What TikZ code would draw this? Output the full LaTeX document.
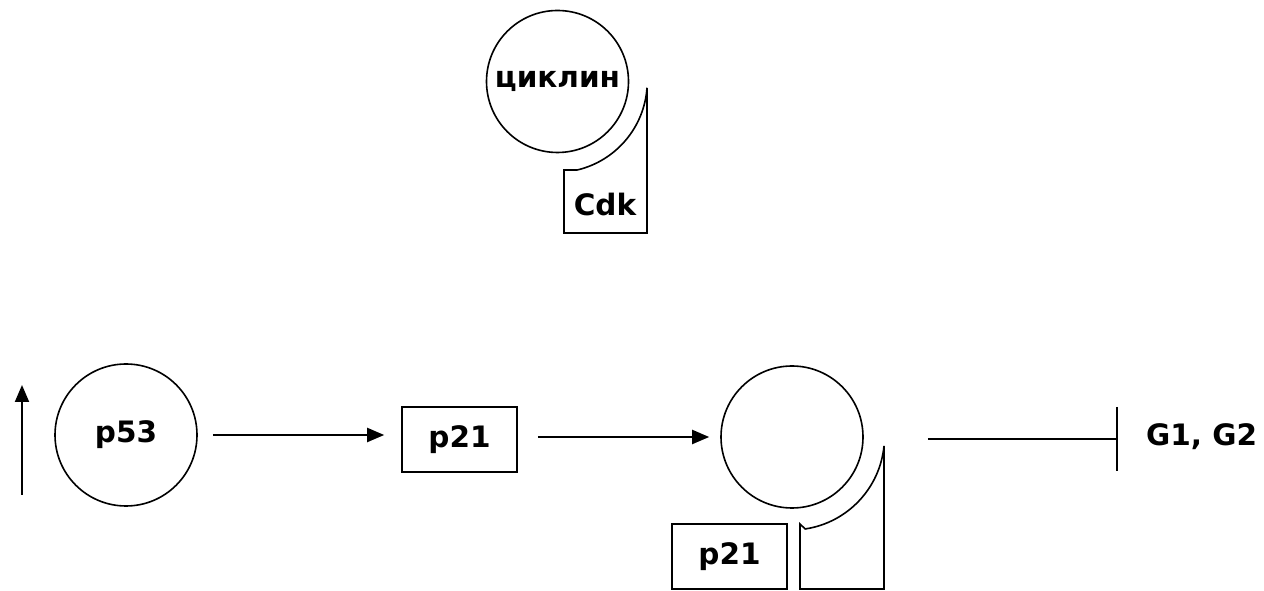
\documentclass[tikz,border=0pt]{standalone}
\usepackage{fontspec}
\setmainfont{DejaVu Sans}
\usetikzlibrary{arrows.meta}
\begin{document}
\begin{tikzpicture}[x=1pt,y=1pt,
  every node/.style={font=\fontsize{29.5}{36}\selectfont\bfseries},
  prot/.style={draw,line width=1.6pt,circle,minimum size=142pt,inner sep=0pt},
  inhbox/.style={draw,line width=1.6pt,rectangle,minimum width=115pt,minimum height=65pt,inner sep=0pt},
  kinase/.style={draw,line width=1.6pt},
  act/.style={line width=2pt,-{Triangle[length=17pt,width=14pt]}},
  inh/.style={line width=2pt,-{Bar[width=64pt,line width=2pt]}}]
\useasboundingbox (0,0) rectangle (1264,591);

% cyclin--Cdk complex (top)
\node[prot] (cyc) at (557.5,509.5) {циклин};
\draw[kinase] (564,421) -- (564,358) -- (647,358) -- (647,503.2)
  arc[start angle=-4,end angle=-76.6,radius=91pt] -- cycle;
\node (cdk) at (605,386) {Cdk};

% p53 -> p21 -> complex --| G1, G2
\coordinate (up0) at (22,96);
\coordinate (up1) at (22,206);
\draw[act] (up0) -- (up1);
\node[prot] (p53) at (126,156) {p53};
\node[inhbox] (p21a) at (459.5,151.5) {p21};
\node[prot] (cx) at (792,154) {};
\draw[kinase] (800,67) -- (800,2) -- (884,2) -- (884,145.1)
  arc[start angle=-5.5,end angle=-81.5,radius=93pt] -- cycle;
\node[inhbox] (p21b) at (729.5,34.5) {p21};
\coordinate (bar) at (1118,152);
\node[anchor=base west,inner sep=0pt] (g12) at (1146,145) {G1, G2};

\draw[act,shorten <=15pt,shorten >=17pt] (p53.east) -- (p53.east -| p21a.west);
\draw[act,shorten <=20pt,shorten >=11pt] (cx.west -| p21a.east) -- (cx.west);
\draw[inh,shorten <=64pt] (cx.east |- bar) -- (bar);
\end{tikzpicture}
\end{document}
